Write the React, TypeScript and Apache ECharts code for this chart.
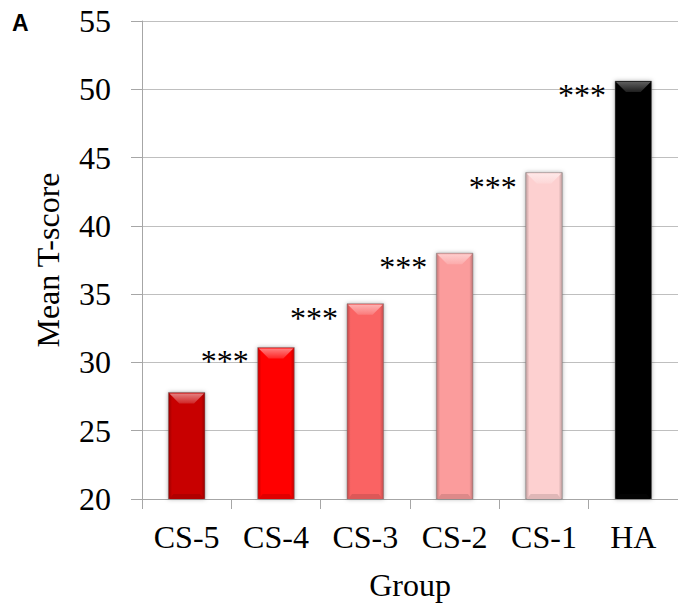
import React, { useEffect, useRef } from "react";
import * as echarts from "echarts";

const categories = ["CS-5", "CS-4", "CS-3", "CS-2", "CS-1", "HA"];
const meanTScores = [27.8, 31.1, 34.3, 38.0, 43.9, 50.6];
const significance = ["", "***", "***", "***", "***", "***"];
const barColors = ["#C80000", "#FF0000", "#FA6464", "#FB9C9C", "#FDD0D0", "#050505"];
const Y_MIN = 20;
const Y_MAX = 55;
const Y_STEP = 5;

function parseHex(c: string): number[] {
  const h = c.replace("#", "");
  return [0, 2, 4].map((i) => parseInt(h.slice(i, i + 2), 16));
}
function mix(c: string, target: number[], t: number): string {
  const a = parseHex(c);
  const r = a.map((v, i) => Math.round(v + (target[i] - v) * t));
  return `rgb(${r[0]},${r[1]},${r[2]})`;
}
const lighten = (c: string, t: number) => mix(c, [255, 255, 255], t);
const darken = (c: string, t: number) => mix(c, [0, 0, 0], t);

const SERIF = '"Liberation Serif", "Times New Roman", serif';

export default function App() {
  const ref = useRef<HTMLDivElement>(null);

  useEffect(() => {
    if (!ref.current) return;
    const chart = echarts.init(ref.current, undefined, { renderer: "svg" });
    const data = categories.map((_, i) => [i, meanTScores[i]]);

    chart.setOption({
      animation: false,
      backgroundColor: "#ffffff",
      title: {
        text: "A",
        left: 12,
        top: 11,
        padding: 0,
        textStyle: {
          fontSize: 23,
          fontWeight: "bold",
          fontFamily: '"Liberation Sans", Arial, sans-serif',
          color: "#000",
        },
      },
      grid: { left: 142, right: 0, top: 21, bottom: 107 },
      xAxis: {
        type: "category",
        data: categories,
        axisLine: { show: true, lineStyle: { color: "#A6A6A6", width: 1 } },
        axisTick: { show: true, length: 10, alignWithLabel: false, lineStyle: { color: "#A6A6A6" } },
        axisLabel: { fontSize: 32, fontFamily: SERIF, color: "#000", margin: 22 },
        splitLine: { show: false },
        name: "Group",
        nameLocation: "middle",
        nameGap: 70,
        nameTextStyle: { fontSize: 32, fontFamily: SERIF, color: "#000" },
      },
      yAxis: {
        type: "value",
        min: Y_MIN,
        max: Y_MAX,
        interval: Y_STEP,
        axisLine: { show: true, lineStyle: { color: "#A6A6A6", width: 1 } },
        axisTick: { show: true, length: 11, inside: false, lineStyle: { color: "#A6A6A6" } },
        axisLabel: { fontSize: 32, fontFamily: SERIF, color: "#000", margin: 31 },
        splitLine: { show: true, lineStyle: { color: "#BFBFBF", width: 1 } },
        name: "Mean T-score",
        nameLocation: "middle",
        nameGap: 78,
        nameTextStyle: { fontSize: 32, fontFamily: SERIF, color: "#000" },
      },
      series: [
        {
          type: "custom",
          data,
          encode: { x: 0, y: 1 },
          renderItem: (params: any, api: any) => {
            const idx = params.dataIndex;
            const top = api.coord([api.value(0), api.value(1)]);
            const base = api.coord([api.value(0), Y_MIN]);
            const band = api.size([1, 0])[0];
            const w = band * 0.41;
            const x0 = top[0] - w / 2;
            const y0 = top[1];
            const h = base[1] - y0;
            const c = barColors[idx];
            const bev = Math.min(12, w * 0.3);
            const sideFill = new echarts.graphic.LinearGradient(0, 0, 1, 0, [
              { offset: 0, color: darken(c, 0.25) },
              { offset: 0.1, color: c },
              { offset: 0.9, color: c },
              { offset: 1, color: darken(c, 0.25) },
            ]);
            const topFill = new echarts.graphic.LinearGradient(0, 0, 0, 1, [
              { offset: 0, color: lighten(c, idx === 5 ? 0.35 : 0.5) },
              { offset: 1, color: lighten(c, idx === 5 ? 0.1 : 0.15) },
            ]);
            const children: any[] = [
              {
                type: "rect",
                shape: { x: x0, y: y0, width: w, height: h },
                style: {
                  fill: sideFill,
                  stroke: "rgba(120,120,120,0.5)",
                  lineWidth: 1,
                  shadowBlur: 4,
                  shadowColor: "rgba(0,0,0,0.3)",
                },
              },
              {
                type: "polygon",
                shape: {
                  points: [
                    [x0 + 1, y0 + 1],
                    [x0 + w - 1, y0 + 1],
                    [x0 + w - bev, y0 + bev],
                    [x0 + bev, y0 + bev],
                  ],
                },
                style: { fill: topFill },
              },
              {
                type: "polygon",
                shape: {
                  points: [
                    [x0 + 1, y0 + h],
                    [x0 + w - 1, y0 + h],
                    [x0 + w - 5, y0 + h - 5],
                    [x0 + 5, y0 + h - 5],
                  ],
                },
                style: { fill: darken(c, 0.12) },
              },
            ];
            if (significance[idx]) {
              children.push({
                type: "text",
                style: {
                  text: significance[idx],
                  x: x0 - 9,
                  y: y0 + 14,
                  align: "right",
                  verticalAlign: "middle",
                  fontSize: 32,
                  fontFamily: SERIF,
                  fill: "#000",
                },
              });
            }
            return { type: "group", children };
          },
        },
      ],
    });

    return () => chart.dispose();
  }, []);

  return (
    <div
      ref={ref}
      style={{ position: "fixed", left: 0, top: 0, width: 678, height: 606 }}
    />
  );
}
